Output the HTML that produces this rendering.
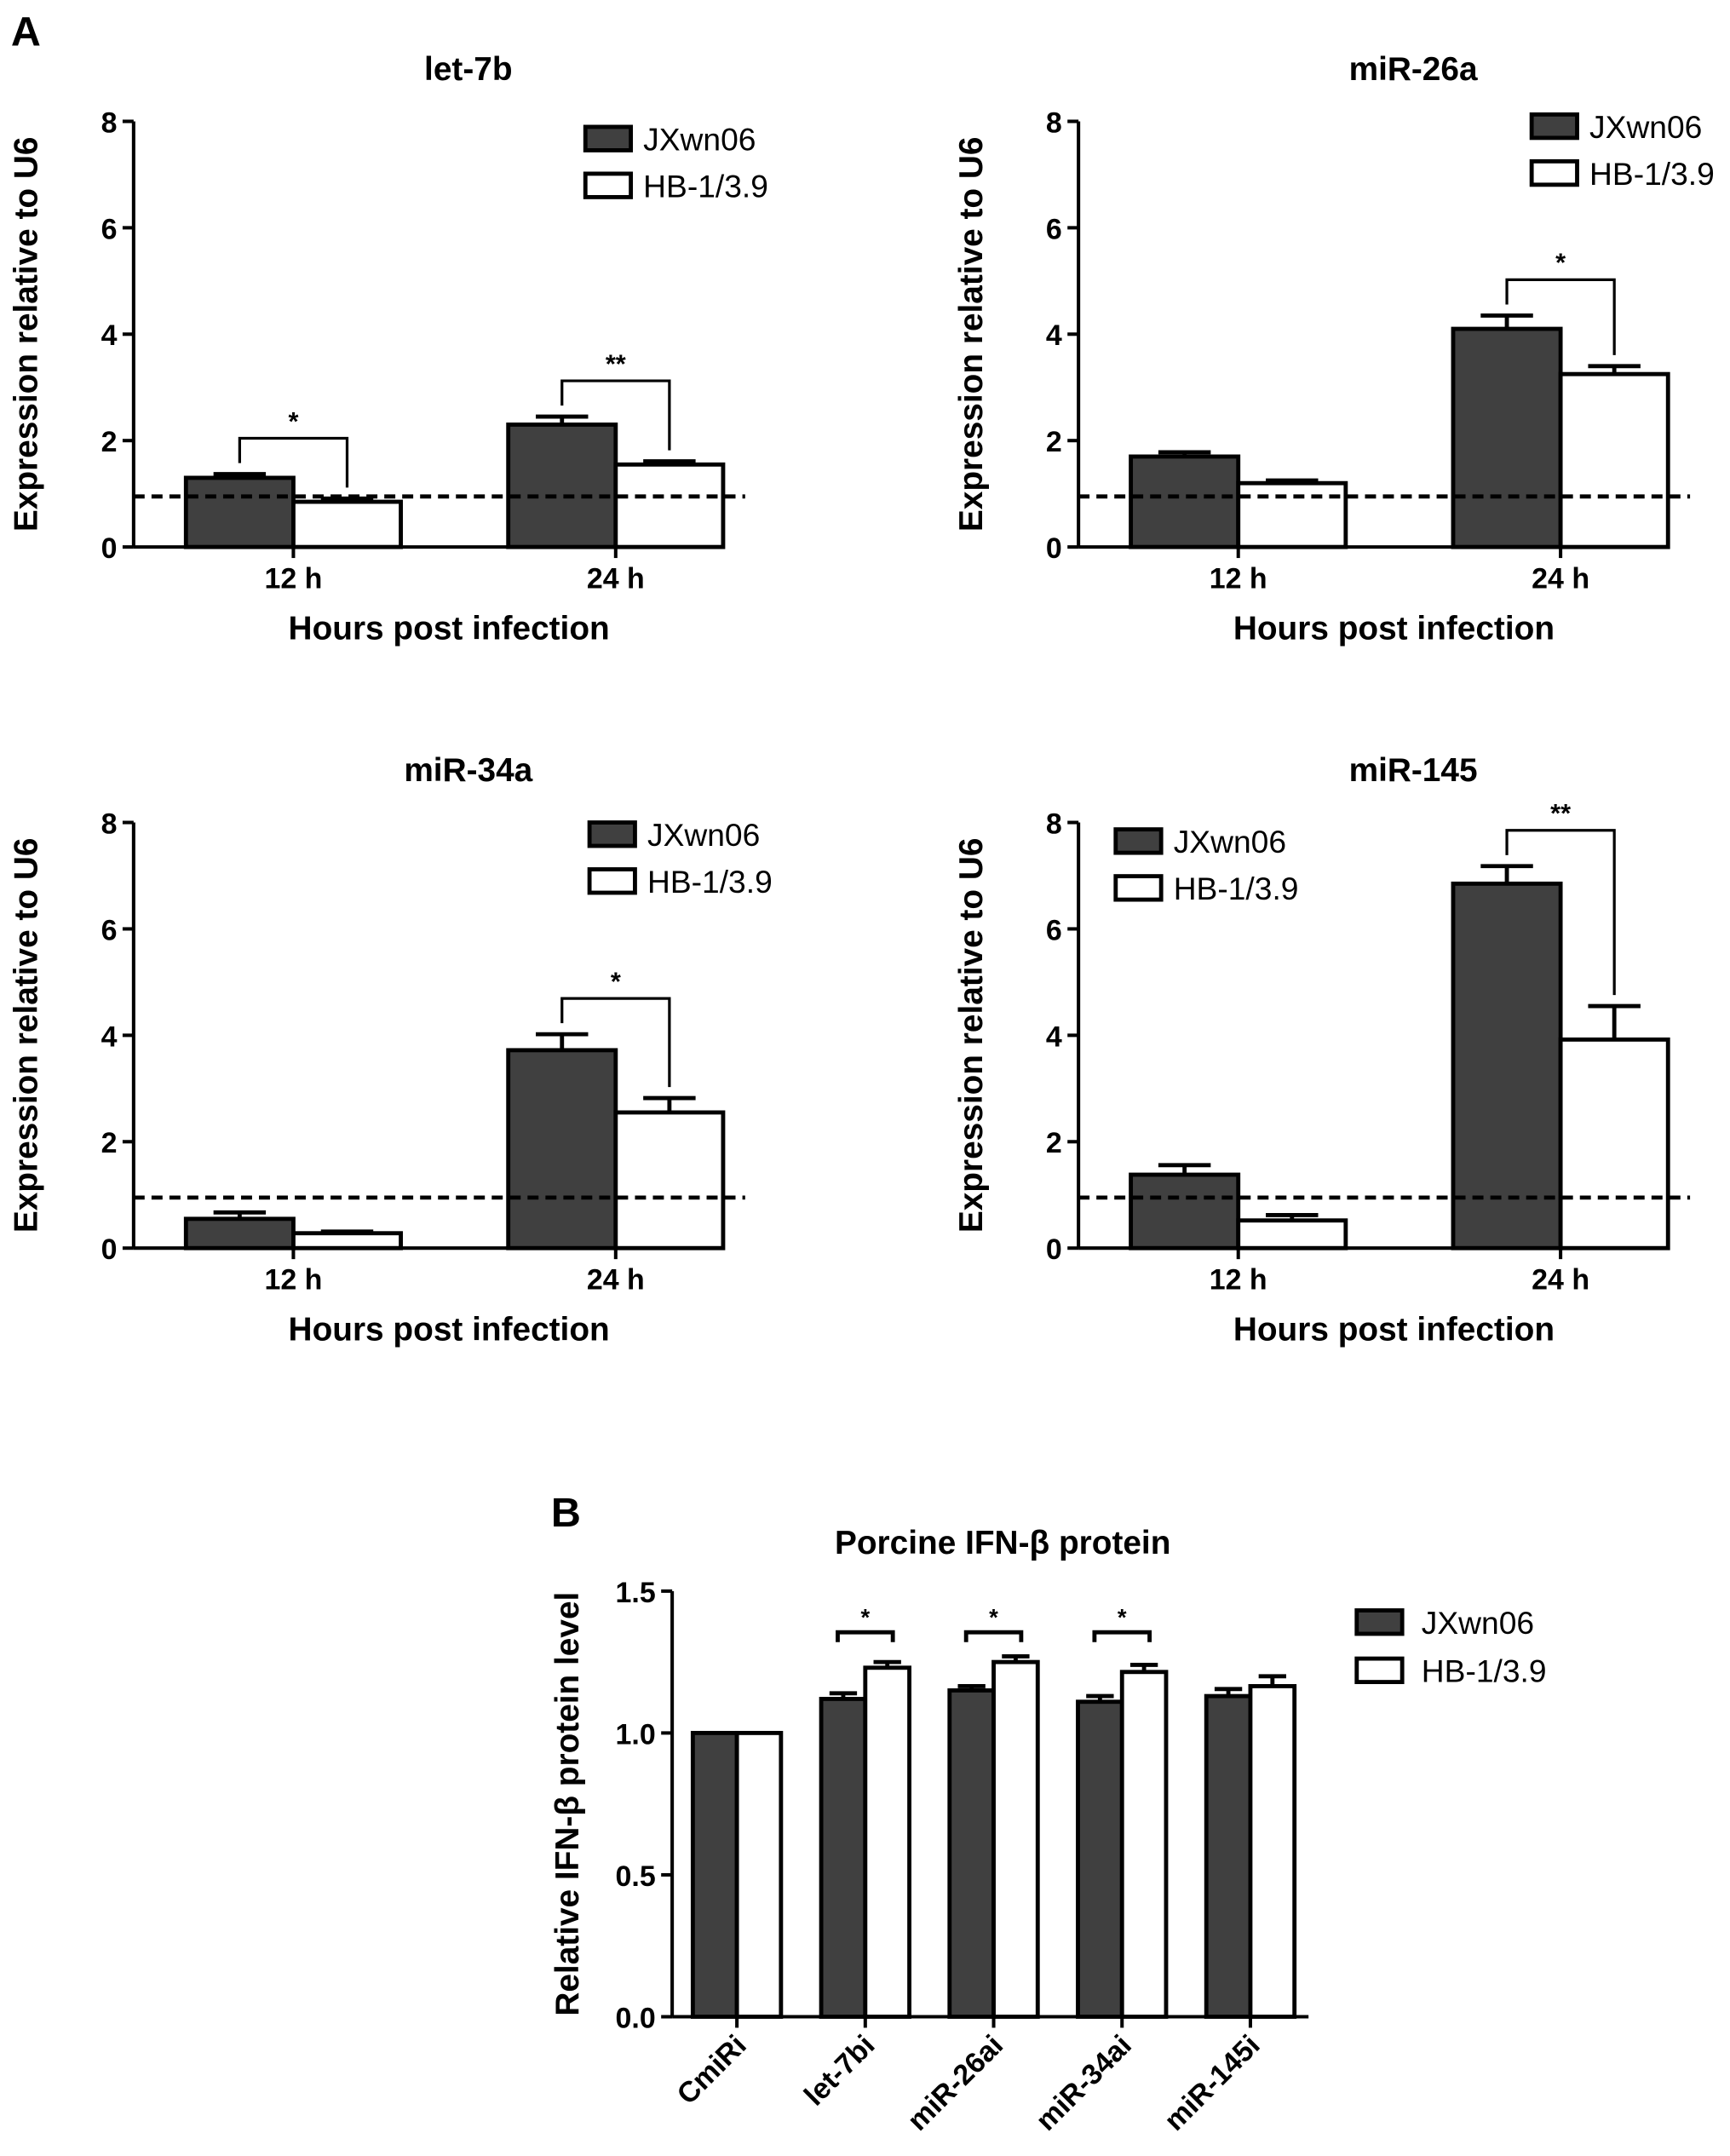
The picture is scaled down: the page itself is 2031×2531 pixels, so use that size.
<!DOCTYPE html>
<html><head><meta charset="utf-8"><style>
html,body{margin:0;padding:0;background:#fff}
svg{display:block}
text{font-family:"Liberation Sans",Arial,sans-serif;fill:#000}
</style></head><body>
<svg id="fig" width="2031" height="2531" viewBox="0 0 1256 1565" xmlns="http://www.w3.org/2000/svg">
<rect width="1256" height="1565" fill="#fff"/>
<text x="8" y="33" font-size="30" font-weight="bold">A</text>
<text x="400" y="1108" font-size="30" font-weight="bold">B</text>
</svg>
<script>
const panelTitles = ["let-7b","miR-26a","miR-34a","miR-145"];
const groups = ["12 h","24 h"];
const jxVals = [[1.3,2.3],[1.7,4.1],[0.55,3.72],[1.38,6.85]];
const jxErr = [[0.07,0.15],[0.08,0.25],[0.12,0.3],[0.18,0.33]];
const hbVals = [[0.85,1.55],[1.2,3.25],[0.28,2.55],[0.52,3.92]];
const hbErr = [[0.06,0.06],[0.05,0.15],[0.03,0.27],[0.1,0.63]];
const sigMarks = [[["*"],["**"]],[[""],["*"]],[[""],["*"]],[[""],["**"]]];
const yTicksA = [0,2,4,6,8];
const refLine = 0.95;

const bCats = ["CmiRi","let-7bi","miR-26ai","miR-34ai","miR-145i"];
const bJx = [1.0,1.12,1.15,1.11,1.13];
const bJxErr = [0,0.02,0.015,0.02,0.025];
const bHb = [1.0,1.23,1.25,1.215,1.165];
const bHbErr = [0,0.02,0.02,0.025,0.035];
const bSig = ["","*","*","*",""];
const yTicksB = [0.0,0.5,1.0,1.5];

const svg = document.getElementById('fig');
const NS = "http://www.w3.org/2000/svg";
function el(tag, attrs, parent){const e=document.createElementNS(NS,tag);for(const k in attrs)e.setAttribute(k,attrs[k]);(parent||svg).appendChild(e);return e;}
function txt(x,y,s,size,attrs,parent){const t=el('text',Object.assign({x:x,y:y,'font-size':size},attrs||{}),parent);t.textContent=s;return t;}

const layouts = [
 {ax:97, top:88, bot:397, legX:425, legY:100},
 {ax:783, top:88, bot:397, legX:1112, legY:91},
 {ax:97, top:597, bot:906, legX:428, legY:605},
 {ax:783, top:597, bot:906, legX:810, legY:610}
];
layouts.forEach((L,p)=>{
  const g = el('g',{});
  
  
  const y = v => L.bot - (v/8)*(L.bot-L.top);
  const groupX = [L.ax+38, L.ax+272];
  const bw = 78;
  const t = txt(L.ax+243, L.top-30, panelTitles[p], 24, {'font-weight':'bold','text-anchor':'middle'}, g);
  
  
  el('line',{x1:L.ax,y1:L.top,x2:L.ax,y2:L.bot,stroke:'#000','stroke-width':2.5},g);
  yTicksA.forEach(v=>{
    el('line',{x1:L.ax-8,y1:y(v),x2:L.ax,y2:y(v),stroke:'#000','stroke-width':2.5},g);
    const tl = txt(L.ax-12, y(v)+8, String(v), 21, {'font-weight':'bold','text-anchor':'end'}, g);
    
    
  });
  const yl = txt(0,0,'Expression relative to U6',24,{'font-weight':'bold','text-anchor':'middle',transform:`translate(${L.ax-70},${(L.top+L.bot)/2}) rotate(-90)`},g);
  
  
  groups.forEach((gn,i)=>{
    const x0 = groupX[i];
    const jv=jxVals[p][i], hv=hbVals[p][i];
    [[x0,jv,jxErr[p][i]],[x0+bw,hv,hbErr[p][i]]].forEach(([bx,v,e])=>{
      el('line',{x1:bx+bw/2,y1:y(v),x2:bx+bw/2,y2:y(v+e),stroke:'#000','stroke-width':3},g);
      el('line',{x1:bx+bw/2-19,y1:y(v+e),x2:bx+bw/2+19,y2:y(v+e),stroke:'#000','stroke-width':3},g);
    });
    const r1 = el('rect',{x:x0,y:y(jv),width:bw,height:L.bot-y(jv),fill:'#404040',stroke:'#000','stroke-width':3},g);
    
    
    const r2 = el('rect',{x:x0+bw,y:y(hv),width:bw,height:L.bot-y(hv),fill:'#fff',stroke:'#000','stroke-width':3},g);
    
    
    const mid = x0+bw;
    el('line',{x1:mid,y1:L.bot,x2:mid,y2:L.bot+8,stroke:'#000','stroke-width':2.5},g);
    const cl = txt(mid, L.bot+30, gn, 21, {'font-weight':'bold','text-anchor':'middle'}, g);
    
    
    const s = sigMarks[p][i][0];
    if(s){
      const xa = x0+bw/2, xb = x0+bw*1.5;
      const ta = y(jv+jxErr[p][i])-8, tb = y(hv+hbErr[p][i])-8;
      const by = Math.min(ta,tb) - 18;
      el('polyline',{points:`${xa},${ta} ${xa},${by} ${xb},${by} ${xb},${tb}`,fill:'none',stroke:'#000','stroke-width':2},g);
      const st = txt((xa+xb)/2, by-6, s, 19, {'font-weight':'bold','text-anchor':'middle'}, g);
      
      
    }
  });
  el('line',{x1:L.ax,y1:L.bot,x2:L.ax+426,y2:L.bot,stroke:'#000','stroke-width':2.5},g);
  const rl = el('line',{x1:L.ax,y1:y(refLine),x2:L.ax+444,y2:y(refLine),stroke:'#000','stroke-width':3,'stroke-dasharray':'8,5'},g);
  
  
  const xt = txt(L.ax+229, L.bot+67, 'Hours post infection', 24, {'font-weight':'bold','text-anchor':'middle'}, g);
  
  
  [['JXwn06','#404040'],['HB-1/3.9','#fff']].forEach(([n,f],k)=>{
    const le = el('g',{},g);
    
    
    el('rect',{x:L.legX,y:L.legY-8+k*34,width:33,height:17,fill:f,stroke:'#000','stroke-width':3},le);
    txt(L.legX+42, L.legY+9+k*34, n, 23, {}, le);
  });
});

(function(){
  const g = el('g',{});
  
  
  const ax=488, top=1155, bot=1464;
  const y = v => bot - (v/1.5)*(bot-top);
  const t = txt(728, 1128, 'Porcine IFN-β protein', 24, {'font-weight':'bold','text-anchor':'middle'}, g);
  
  
  el('line',{x1:ax,y1:top,x2:ax,y2:bot,stroke:'#000','stroke-width':2.5},g);
  yTicksB.forEach(v=>{
    el('line',{x1:ax-8,y1:y(v),x2:ax,y2:y(v),stroke:'#000','stroke-width':2.5},g);
    const tl = txt(ax-12, y(v)+8, v.toFixed(1), 21, {'font-weight':'bold','text-anchor':'end'}, g);
    
    
  });
  const yl = txt(0,0,'Relative IFN-β  protein level',24,{'font-weight':'bold','text-anchor':'middle',transform:`translate(420,${(top+bot)/2}) rotate(-90)`},g);
  
  
  const bw=32;
  bCats.forEach((c,i)=>{
    const x0 = 503 + i*93.2;
    [[x0,bJx[i],bJxErr[i]],[x0+bw,bHb[i],bHbErr[i]]].forEach(([bx,v,e])=>{
      if(e>0){
        el('line',{x1:bx+bw/2,y1:y(v),x2:bx+bw/2,y2:y(v+e),stroke:'#000','stroke-width':3},g);
        el('line',{x1:bx+bw/2-10,y1:y(v+e),x2:bx+bw/2+10,y2:y(v+e),stroke:'#000','stroke-width':3},g);
      }
    });
    const r1 = el('rect',{x:x0,y:y(bJx[i]),width:bw,height:bot-y(bJx[i]),fill:'#404040',stroke:'#000','stroke-width':3},g);
    
    
    const r2 = el('rect',{x:x0+bw,y:y(bHb[i]),width:bw,height:bot-y(bHb[i]),fill:'#fff',stroke:'#000','stroke-width':3},g);
    
    
    const mid=x0+bw;
    el('line',{x1:mid,y1:bot,x2:mid,y2:bot+8,stroke:'#000','stroke-width':2.5},g);
    const cl = txt(0,0,c,21,{'font-weight':'bold','text-anchor':'end',transform:`translate(${mid+8},${bot+22}) rotate(-45)`},g);
    
    
    if(bSig[i]){
      const xa=x0+bw/2-4, xb=x0+bw*1.5+4, by=y(1.355), bl=y(1.32);
      el('polyline',{points:`${xa},${bl} ${xa},${by} ${xb},${by} ${xb},${bl}`,fill:'none',stroke:'#000','stroke-width':3},g);
      const st = txt((xa+xb)/2, by-5, bSig[i], 17, {'font-weight':'bold','text-anchor':'middle'}, g);
      
      
    }
  });
  el('line',{x1:ax,y1:bot,x2:950,y2:bot,stroke:'#000','stroke-width':2.5},g);
  [['JXwn06','#404040'],['HB-1/3.9','#fff']].forEach(([n,f],k)=>{
    const le = el('g',{},g);
    
    
    el('rect',{x:985,y:1169+k*35,width:33,height:17,fill:f,stroke:'#000','stroke-width':3},le);
    txt(1032, 1186+k*35, n, 23, {}, le);
  });
})();
</script>
</body></html>
